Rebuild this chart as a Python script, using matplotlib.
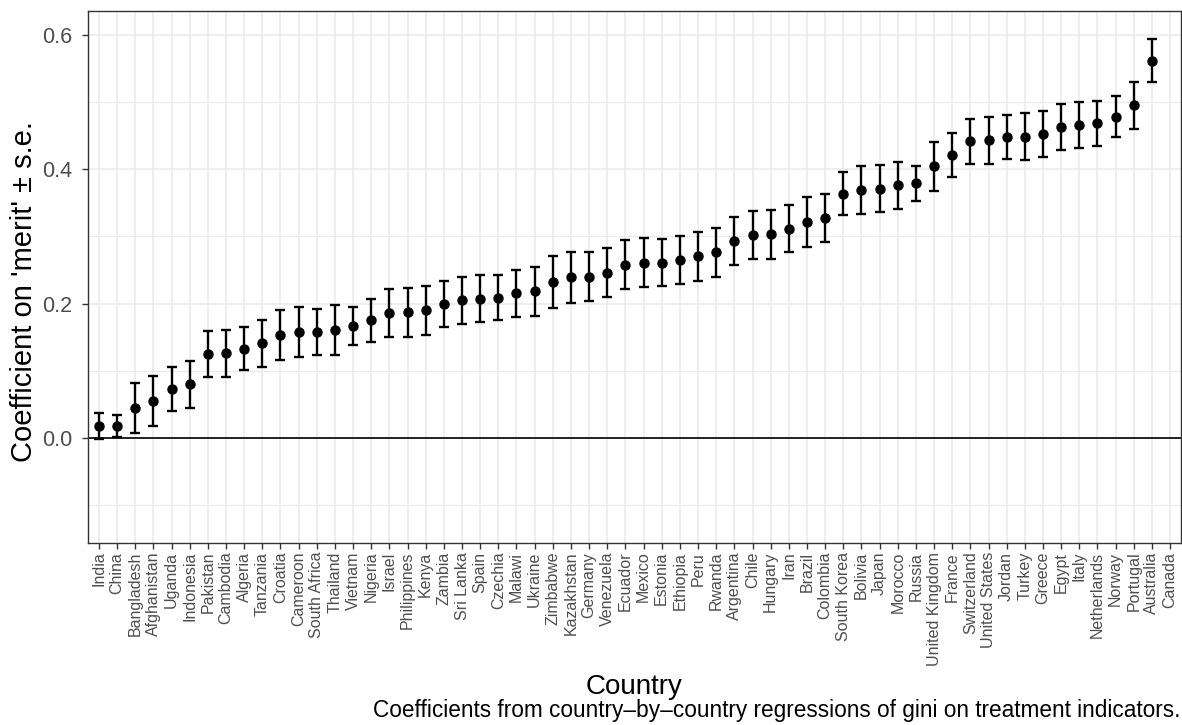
import numpy as np
import matplotlib
matplotlib.use('Agg')
from matplotlib import pyplot as plt
from matplotlib.ticker import MultipleLocator

countries = ['India', 'China', 'Bangladesh', 'Afghanistan', 'Uganda', 'Indonesia',
             'Pakistan', 'Cambodia', 'Algeria', 'Tanzania', 'Croatia', 'Cameroon',
             'South Africa', 'Thailand', 'Vietnam', 'Nigeria', 'Israel', 'Philippines',
             'Kenya', 'Zambia', 'Sri Lanka', 'Spain', 'Czechia', 'Malawi', 'Ukraine',
             'Zimbabwe', 'Kazakhstan', 'Germany', 'Venezuela', 'Ecuador', 'Mexico',
             'Estonia', 'Ethiopia', 'Peru', 'Rwanda', 'Argentina', 'Chile', 'Hungary',
             'Iran', 'Brazil', 'Colombia', 'South Korea', 'Bolivia', 'Japan', 'Morocco',
             'Russia', 'United Kingdom', 'France', 'Switzerland', 'United States',
             'Jordan', 'Turkey', 'Greece', 'Egypt', 'Italy', 'Netherlands', 'Norway',
             'Portugal', 'Australia', 'Canada']

coef = [0.018, 0.018, 0.045, 0.055, 0.073, 0.080, 0.125, 0.126, 0.133, 0.141,
        0.153, 0.158, 0.158, 0.161, 0.167, 0.175, 0.186, 0.187, 0.190, 0.199,
        0.205, 0.207, 0.209, 0.215, 0.218, 0.232, 0.239, 0.240, 0.246, 0.258,
        0.261, 0.261, 0.265, 0.270, 0.276, 0.293, 0.302, 0.303, 0.311, 0.321,
        0.327, 0.363, 0.369, 0.371, 0.376, 0.379, 0.404, 0.421, 0.441, 0.443,
        0.448, 0.448, 0.452, 0.462, 0.466, 0.468, 0.478, 0.495, 0.561, np.nan]

se = [0.019, 0.016, 0.037, 0.037, 0.033, 0.035, 0.034, 0.035, 0.032, 0.035,
      0.037, 0.037, 0.034, 0.037, 0.028, 0.032, 0.036, 0.036, 0.036, 0.034,
      0.035, 0.035, 0.034, 0.035, 0.036, 0.038, 0.038, 0.036, 0.036, 0.037,
      0.036, 0.035, 0.036, 0.036, 0.036, 0.036, 0.036, 0.036, 0.035, 0.037,
      0.036, 0.032, 0.036, 0.035, 0.035, 0.026, 0.036, 0.033, 0.033, 0.035,
      0.033, 0.035, 0.034, 0.034, 0.034, 0.033, 0.030, 0.035, 0.032, np.nan]

plt.rcParams['font.family'] = ['Liberation Sans', 'DejaVu Sans']

fig = plt.figure(figsize=(11.82, 7.25), dpi=100)
ax = fig.add_axes([88 / 1182, (725 - 543) / 725, (1181 - 88) / 1182, (543 - 11) / 725])

x = np.arange(len(countries))
ax.axhline(0, color='black', lw=1.2, zorder=2)
ax.errorbar(x, coef, yerr=se, fmt='o', color='black', ms=6.5, elinewidth=1.7,
            capsize=3.8, capthick=1.7, zorder=3)

ax.set_xlim(-0.6, len(countries) - 0.4)
ax.set_ylim(-0.156, 0.635)
ax.set_xticks(x)
ax.set_xticklabels(countries, rotation=90, fontsize=11.5, color='#4D4D4D')
ax.yaxis.set_minor_locator(MultipleLocator(0.1))
ax.set_yticks([0.0, 0.2, 0.4, 0.6])
ax.set_yticklabels(['0.0', '0.2', '0.4', '0.6'], fontsize=15.5, color='#4D4D4D')
ax.tick_params(axis='both', which='major', length=4.3, width=1, color='#333333')
ax.tick_params(axis='x', which='major', pad=2)
ax.tick_params(axis='y', which='major', pad=7)
ax.tick_params(axis='y', which='minor', length=0)

ax.set_axisbelow(True)
ax.grid(which='major', color='#EBEBEB', lw=1.2)
ax.grid(which='minor', axis='y', color='#EBEBEB', lw=0.8)
for s in ax.spines.values():
    s.set_color('#333333')
    s.set_linewidth(1)

ax.set_xlabel('Country', fontsize=20, labelpad=6)
ax.set_ylabel("Coefficient on 'merit' \u00b1 s.e.", fontsize=21)
# label sits a little below the panel centre in the original
ax.yaxis.set_label_coords(-0.046, 0.472)
fig.text(1180 / 1182, 3 / 725,
         'Coefficients from country\u2013by\u2013country regressions of gini on treatment indicators.',
         ha='right', va='bottom', fontsize=16.3)

plt.savefig('out.png', dpi=100)
plt.close()
